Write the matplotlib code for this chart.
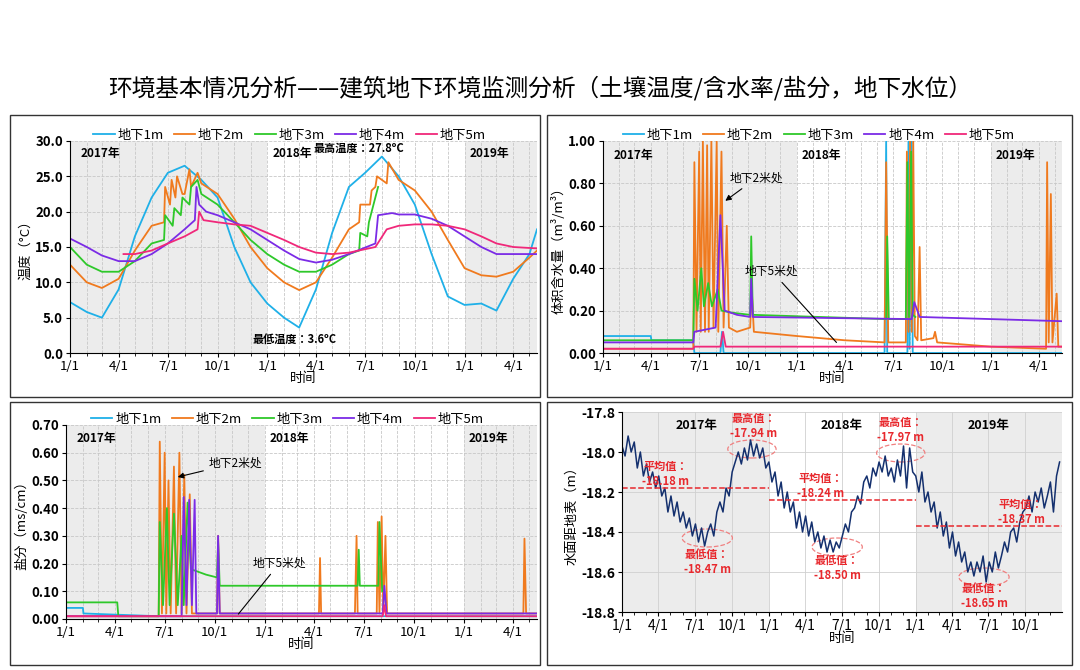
import matplotlib
matplotlib.use("Agg")
import matplotlib.pyplot as plt
import matplotlib.dates as mdates
from matplotlib.patches import Rectangle, Ellipse
import pandas as pd

plt.rcParams['font.family'] = ['Noto Sans CJK JP', 'Noto Sans CJK SC', 'DejaVu Sans']
plt.rcParams['axes.unicode_minus'] = False

C1, C2, C3, C4, C5 = '#1fb0e8', '#f07a1e', '#2ec82a', '#7b2be6', '#f0287a'
names = ['地下1m', '地下2m', '地下3m', '地下4m', '地下5m']

# ---------------- temperature ----------------
t_months = ['2017-01-01','2017-02-01','2017-03-01','2017-04-01','2017-05-01','2017-06-01','2017-07-01','2017-08-01',
            '2017-09-01','2017-10-01','2017-11-01','2017-12-01','2018-01-01','2018-02-01','2018-03-01','2018-04-01',
            '2018-05-01','2018-06-01','2018-07-01','2018-08-01','2018-09-01','2018-10-01','2018-11-01','2018-12-01',
            '2019-01-01','2019-02-01','2019-03-01','2019-04-01','2019-05-01','2019-05-15']
temp1 = [7.2,5.8,5.0,9.0,16.5,22.0,25.5,26.5,24.5,22.0,15.0,10.0,7.0,5.0,3.6,9.0,17.0,23.5,25.5,27.8,25.0,21.0,14.0,8.0,6.8,7.0,6.0,10.5,14.0,17.5]
temp2_d = ['2017-01-01','2017-02-01','2017-03-01','2017-04-01','2017-05-01','2017-06-01','2017-06-24','2017-06-26','2017-07-05','2017-07-08',
           '2017-07-15','2017-07-18','2017-07-28','2017-08-01','2017-08-10','2017-08-13','2017-08-25','2017-09-01','2017-10-01','2017-11-01',
           '2017-12-01','2018-01-01','2018-02-01','2018-03-01','2018-04-01','2018-05-01','2018-06-01','2018-06-20','2018-06-22','2018-07-10',
           '2018-07-13','2018-07-20','2018-07-23','2018-08-10','2018-08-13','2018-09-01','2018-10-01','2018-11-01','2018-12-01','2019-01-01',
           '2019-02-01','2019-03-01','2019-04-01','2019-05-01','2019-05-15']
temp2 = [12.5,10.0,9.2,10.5,14.5,18.0,18.5,23.5,21.0,24.5,22.0,25.0,22.5,22.5,26.0,23.5,25.5,24.0,22.5,19.0,
         15.0,12.0,10.0,8.9,10.0,13.5,17.5,18.5,21.0,21.0,23.0,23.5,25.0,24.0,27.0,24.5,23.0,20.0,16.0,12.0,
         11.0,10.8,11.5,13.5,14.5]
temp3_d = ['2017-01-01','2017-02-01','2017-03-01','2017-04-01','2017-05-01','2017-06-01','2017-06-24','2017-06-26','2017-07-10','2017-07-13',
           '2017-07-25','2017-07-28','2017-08-10','2017-08-13','2017-08-25','2017-09-01','2017-10-01','2017-11-01','2017-12-01','2018-01-01',
           '2018-02-01','2018-03-01','2018-04-01','2018-05-01','2018-06-01','2018-06-20','2018-06-22','2018-07-05','2018-07-08','2018-07-25']
temp3 = [15.0,12.5,11.5,11.5,13.0,15.5,16.0,19.5,18.0,20.5,19.5,22.0,21.0,23.5,24.5,22.5,21.0,18.5,16.0,14.0,
         12.5,11.5,11.5,12.5,14.0,14.5,17.0,16.5,18.5,23.5]
temp4_d = ['2017-01-01','2017-02-01','2017-03-01','2017-04-01','2017-05-01','2017-06-01','2017-07-01','2017-08-01','2017-08-20','2017-08-23',
           '2017-08-28','2017-09-10','2017-10-01','2017-11-01','2017-12-01','2018-01-01','2018-02-01','2018-03-01','2018-04-01','2018-05-01',
           '2018-06-01','2018-07-20','2018-07-25','2018-08-20','2018-09-01','2018-10-01','2018-11-01','2018-12-01','2019-01-01','2019-02-01',
           '2019-03-01','2019-04-01','2019-05-15']
temp4 = [16.2,15.0,13.8,13.0,13.0,14.0,15.5,17.5,18.8,23.5,21.0,20.0,19.5,18.5,17.5,16.0,14.5,13.3,12.8,13.2,
         14.0,15.5,19.5,19.8,19.6,19.6,19.0,18.0,16.5,15.0,14.0,14.0,14.0]
temp5_d = ['2017-04-10','2017-05-01','2017-06-01','2017-07-01','2017-08-01','2017-08-25','2017-08-28','2017-09-05','2017-10-01','2017-11-01',
           '2017-12-01','2018-01-01','2018-02-01','2018-03-01','2018-04-01','2018-05-01','2018-06-01','2018-07-20','2018-08-10','2018-09-01',
           '2018-10-01','2018-11-01','2018-12-01','2019-01-01','2019-02-01','2019-03-01','2019-04-01','2019-05-15']
temp5 = [14.0,14.0,14.5,15.5,16.5,17.5,20.0,18.8,18.5,18.2,18.0,17.0,16.0,15.0,14.2,14.0,14.2,15.0,17.5,18.0,
         18.2,18.2,18.0,17.5,16.5,15.5,15.0,14.8]

# ---------------- moisture ----------------
m1_d = ['2017-01-01','2017-04-01','2017-04-02','2017-06-20','2017-06-22','2017-08-10','2017-08-13','2017-08-16','2018-06-15','2018-06-18',
        '2018-06-20','2018-07-28','2018-07-30','2018-08-01','2018-08-05','2018-08-07','2019-05-15']
m1 = [0.08,0.08,0.06,0.06,0.0,0.0,0.1,0.0,0.0,1.0,0.0,0.0,1.0,0.02,1.0,0.0,0.0]
m2_d = ['2017-01-01','2017-06-20','2017-06-22','2017-06-26','2017-07-01','2017-07-04','2017-07-08','2017-07-12','2017-07-16','2017-07-19',
        '2017-07-24','2017-07-28','2017-08-03','2017-08-06','2017-08-12','2017-08-16','2017-08-22','2017-08-26','2017-09-10','2017-10-05',
        '2017-10-08','2017-10-12','2018-01-01','2018-04-01','2018-06-15','2018-06-18','2018-06-22','2018-07-25','2018-07-27','2018-07-30',
        '2018-08-02','2018-08-05','2018-08-08','2018-08-11','2018-08-16','2018-08-20','2018-08-23','2018-09-15','2018-09-18','2018-09-22',
        '2019-01-01','2019-04-15','2019-04-17','2019-04-20','2019-04-24','2019-04-27','2019-05-05','2019-05-08','2019-05-15']
m2 = [0.02,0.02,0.9,0.1,0.95,0.1,1.0,0.1,0.98,0.1,1.0,0.12,1.0,0.1,0.95,0.12,0.6,0.12,0.1,0.12,
      0.3,0.1,0.08,0.06,0.05,0.9,0.05,0.05,0.95,0.1,1.0,0.1,1.0,0.08,0.06,0.5,0.06,0.07,0.1,0.05,
      0.03,0.02,0.9,0.05,0.75,0.05,0.28,0.03,0.03]
m3_d = ['2017-01-01','2017-06-20','2017-06-22','2017-06-28','2017-07-05','2017-07-10','2017-07-18','2017-07-25','2017-08-05','2017-08-12',
        '2017-09-01','2017-10-05','2017-10-07','2017-10-10','2018-06-18','2018-06-20','2018-06-23','2018-07-25','2018-07-28','2018-07-31',
        '2018-08-04','2018-08-07','2018-08-12']
m3 = [0.06,0.06,0.35,0.2,0.4,0.22,0.33,0.22,0.3,0.2,0.19,0.18,0.55,0.18,0.16,0.55,0.16,0.16,0.9,0.17,0.95,0.18,0.17]
m4_d = ['2017-01-01','2017-06-20','2017-06-22','2017-08-01','2017-08-10','2017-08-18','2017-09-10','2017-10-05','2017-10-07','2017-10-10',
        '2018-08-05','2018-08-10','2018-08-20','2019-05-15']
m4 = [0.05,0.05,0.1,0.12,0.65,0.2,0.18,0.17,0.35,0.17,0.16,0.24,0.17,0.15]
m5_d = ['2017-01-01','2017-06-20','2017-06-22','2017-08-10','2017-08-15','2017-08-20','2019-05-15']
m5 = [0.02,0.02,0.03,0.03,0.1,0.03,0.03]

# ---------------- salt ----------------
s1_d = ['2017-01-01','2017-02-01','2017-02-02','2017-06-20','2019-05-15']
s1 = [0.04,0.04,0.02,0.01,0.01]
s2_d = ['2017-01-01','2017-06-20','2017-06-22','2017-06-26','2017-07-01','2017-07-04','2017-07-08','2017-07-12','2017-07-18','2017-07-22',
        '2017-07-28','2017-08-01','2017-08-06','2017-08-10','2017-08-16','2017-08-20','2017-10-05','2017-10-07','2017-10-10','2018-04-10',
        '2018-04-12','2018-04-14','2018-06-15','2018-06-18','2018-06-20','2018-07-25','2018-07-27','2018-07-30','2018-08-03','2018-08-06',
        '2018-08-10','2018-08-13','2019-04-20','2019-04-22','2019-04-25','2019-05-15']
s2 = [0.01,0.01,0.64,0.02,0.6,0.02,0.5,0.02,0.55,0.02,0.6,0.02,0.52,0.02,0.45,0.02,0.02,0.3,0.02,0.02,
      0.22,0.02,0.02,0.3,0.02,0.02,0.35,0.02,0.37,0.02,0.3,0.02,0.02,0.29,0.02,0.02]
s3_d = ['2017-01-01','2017-04-05','2017-04-07','2017-06-20','2017-06-22','2017-06-28','2017-07-05','2017-07-10','2017-07-18','2017-07-25',
        '2017-08-01','2017-08-05','2017-08-12','2017-08-18','2017-09-15','2017-10-05','2017-10-07','2017-10-10','2018-06-20','2018-06-22',
        '2018-06-24','2018-07-28','2018-07-30','2018-08-04']
s3 = [0.06,0.06,0.01,0.01,0.35,0.05,0.4,0.05,0.38,0.05,0.3,0.05,0.42,0.18,0.16,0.15,0.28,0.12,0.12,0.25,
      0.12,0.12,0.35,0.1]
s4_d = ['2017-01-01','2017-08-01','2017-08-05','2017-08-10','2017-08-15','2017-08-20','2017-08-25','2017-08-28','2017-10-05','2017-10-07',
        '2017-10-10','2018-08-05','2018-08-08','2018-08-12','2019-05-15']
s4 = [0.01,0.01,0.44,0.05,0.43,0.05,0.43,0.02,0.02,0.3,0.02,0.02,0.12,0.02,0.02]
s5_d = ['2017-01-01','2018-08-05','2018-08-08','2018-08-11','2019-05-15']
s5 = [0.01,0.01,0.05,0.01,0.01]

# ---------------- water level (about weekly readings) ----------------
wl = [-17.97,-18.02,-17.92,-18.00,-17.95,-18.08,-18.00,-18.12,-18.06,-18.15,-18.10,-18.18,
      -18.12,-18.22,-18.18,-18.30,-18.22,-18.32,-18.25,-18.35,-18.30,-18.38,-18.33,-18.42,
      -18.36,-18.45,-18.38,-18.47,-18.40,-18.36,-18.42,-18.30,-18.25,-18.30,-18.18,-18.22,
      -18.10,-18.05,-18.00,-18.06,-17.98,-18.04,-17.94,-18.02,-17.96,-18.03,-17.98,-18.08,
      -18.05,-18.15,-18.10,-18.22,-18.15,-18.28,-18.20,-18.30,-18.25,-18.38,-18.30,-18.40,
      -18.32,-18.42,-18.35,-18.45,-18.40,-18.48,-18.42,-18.50,-18.44,-18.50,-18.45,-18.48,
      -18.42,-18.36,-18.40,-18.30,-18.28,-18.22,-18.26,-18.15,-18.12,-18.18,-18.08,-18.12,
      -18.05,-18.10,-18.02,-18.12,-18.08,-18.15,-18.04,-18.12,-17.97,-18.18,-17.98,-18.10,
      -18.12,-18.20,-18.10,-18.25,-18.20,-18.30,-18.25,-18.38,-18.30,-18.42,-18.35,-18.48,
      -18.40,-18.52,-18.45,-18.55,-18.50,-18.60,-18.55,-18.62,-18.55,-18.60,-18.52,-18.65,
      -18.55,-18.60,-18.50,-18.58,-18.52,-18.45,-18.50,-18.40,-18.38,-18.45,-18.35,-18.30,
      -18.28,-18.22,-18.30,-18.20,-18.25,-18.18,-18.28,-18.22,-18.15,-18.30,-18.12,-18.05]
wl_avg = [-18.18, -18.24, -18.37]
wl_max = ['-17.94 m', '-17.97 m']
wl_min = ['-18.47 m', '-18.50 m', '-18.65 m']

D = pd.to_datetime
W, H = 1080, 670
fig = plt.figure(figsize=(W/100, H/100), dpi=100)

def rect(x0, y0, x1, y1):
    return [x0/W, 1-y1/H, (x1-x0)/W, (y1-y0)/H]

fig.text(0.5, 1-88/H, '环境基本情况分析——建筑地下环境监测分析（土壤温度/含水率/盐分，地下水位）',
         ha='center', va='center', fontsize=17)
for (x0, y0, x1, y1) in [(10,115,540,397),(547,115,1072,397),(10,402,540,665),(547,402,1072,665)]:
    fig.patches.append(Rectangle((x0/W, 1-y1/H), (x1-x0)/W, (y1-y0)/H, transform=fig.transFigure,
                                 fill=False, ec='#333333', lw=1.0))

start, end = D('2017-01-01'), D('2019-05-15')
qt = pd.date_range('2017-01-01', '2019-04-01', freq='QS')

def setup_time(ax):
    ax.set_xlim(start, end)
    ax.axvspan(start, D('2018-01-01'), color='#ececec', zorder=0, lw=0)
    ax.axvspan(D('2019-01-01'), end, color='#ececec', zorder=0, lw=0)
    ax.set_xticks(qt)
    ax.set_xticklabels([f'{d.month}/1' for d in qt], fontsize=9.5)
    ax.xaxis.set_minor_locator(mdates.MonthLocator())
    ax.grid(True, which='both', axis='x', ls='--', color='#c8c8c8', lw=0.6)
    ax.grid(True, which='major', axis='y', ls='--', color='#c8c8c8', lw=0.6)
    ax.set_xlabel('时间', fontsize=9.5, labelpad=-1)
    for s in ['top', 'right']:
        ax.spines[s].set_visible(False)
    ax.tick_params(labelsize=9.5, length=3, pad=2)
    ax.tick_params(which='minor', length=2)
    ax.set_axisbelow(True)

def legend(ax):
    ax.legend(names, loc='lower center', bbox_to_anchor=(0.47, 0.99), ncol=5, frameon=False,
              fontsize=9.5, handlelength=1.6, handletextpad=0.2, columnspacing=0.8, borderaxespad=0.0,
              borderpad=0.1)

def years(ax, y):
    ax.text(D('2017-01-20'), y, '2017年', fontsize=8.5, fontweight='bold', va='center')
    ax.text(D('2018-01-10'), y, '2018年', fontsize=8.5, fontweight='bold', va='center')
    ax.text(D('2019-01-10'), y, '2019年', fontsize=8.5, fontweight='bold', va='center')

# TL temperature
ax = fig.add_axes(rect(70, 141, 537, 353))
ax.plot(D(t_months), temp1, color=C1, lw=1.3)
ax.plot(D(temp2_d), temp2, color=C2, lw=1.3)
ax.plot(D(temp3_d), temp3, color=C3, lw=1.3)
ax.plot(D(temp4_d), temp4, color=C4, lw=1.3)
ax.plot(D(temp5_d), temp5, color=C5, lw=1.3)
legend(ax)
ax.set_ylim(0, 30); ax.set_yticks([0,5,10,15,20,25,30])
ax.set_yticklabels([f'{v:.1f}' for v in [0,5,10,15,20,25,30]], fontweight='bold')
ax.set_ylabel('温度（°C）', fontsize=9.5, labelpad=2)
setup_time(ax)
years(ax, 28.3)
ax.text(D('2018-06-20'), 29.0, '最高温度：27.8ºC', fontsize=8, fontweight='bold', ha='center', va='center')
ax.text(D('2018-02-20'), 1.9, '最低温度：3.6ºC', fontsize=8, fontweight='bold', ha='center', va='center')

# TR moisture
ax = fig.add_axes(rect(603, 141, 1062, 353))
for d, v, c in [(m1_d, m1, C1), (m2_d, m2, C2), (m3_d, m3, C3), (m4_d, m4, C4), (m5_d, m5, C5)]:
    ax.plot(D(d), v, color=c, lw=1.3)
legend(ax)
ax.set_ylim(0, 1.0); ax.set_yticks([0,0.2,0.4,0.6,0.8,1.0])
ax.set_yticklabels([f'{v:.2f}' for v in [0,0.2,0.4,0.6,0.8,1.0]], fontweight='bold')
ax.set_ylabel('体积含水量（m³/m³）', fontsize=9.5, labelpad=2)
setup_time(ax)
years(ax, 0.93)
ax.annotate('地下2米处', xy=(D('2017-08-15'), 0.71), xytext=(D('2017-08-28'), 0.81), fontsize=8.5,
            arrowprops=dict(arrowstyle='-|>', color='black', lw=0.8))
ax.annotate('地下5米处', xy=(D('2018-03-20'), 0.04), xytext=(D('2017-09-25'), 0.37), fontsize=8.5,
            arrowprops=dict(arrowstyle='-', color='black', lw=0.8))

# BL salt
ax = fig.add_axes(rect(66, 425, 537, 619))
for d, v, c in [(s1_d, s1, C1), (s2_d, s2, C2), (s3_d, s3, C3), (s4_d, s4, C4), (s5_d, s5, C5)]:
    ax.plot(D(d), v, color=c, lw=1.3)
legend(ax)
ax.set_ylim(0, 0.7); ax.set_yticks([0,0.1,0.2,0.3,0.4,0.5,0.6,0.7])
ax.set_yticklabels([f'{v:.2f}' for v in [0,0.1,0.2,0.3,0.4,0.5,0.6,0.7]], fontweight='bold')
ax.set_ylabel('盐分（ms/cm）', fontsize=9.5, labelpad=2)
setup_time(ax)
years(ax, 0.65)
ax.annotate('地下2米处', xy=(D('2017-07-20'), 0.51), xytext=(D('2017-09-20'), 0.55), fontsize=8.5,
            arrowprops=dict(arrowstyle='-|>', color='black', lw=0.8))
ax.annotate('地下5米处', xy=(D('2017-11-10'), 0.01), xytext=(D('2017-12-10'), 0.19), fontsize=8.5,
            arrowprops=dict(arrowstyle='-', color='black', lw=0.8))

# BR water level
ax = fig.add_axes(rect(622, 412, 1062, 612))
wd = pd.date_range('2017-01-01', '2019-12-25', periods=len(wl))
ax.plot(wd, wl, color='#14306e', lw=1.1)
ax.set_ylim(-18.8, -17.8)
yt = [-18.8, -18.6, -18.4, -18.2, -18.0, -17.8]
ax.set_yticks(yt)
ax.set_yticklabels([f'{v:.1f}' for v in yt], fontweight='bold', fontsize=10)
ax.set_ylabel('水面距地表（m）', fontsize=9.5, labelpad=2)
ax.set_xlim(start, D('2019-12-31'))
wt = pd.date_range('2017-01-01', '2019-10-01', freq='QS')
ax.axvspan(start, D('2018-01-01'), color='#ececec', zorder=0, lw=0)
ax.axvspan(D('2019-01-01'), D('2019-12-31'), color='#ececec', zorder=0, lw=0)
ax.set_xticks(wt); ax.set_xticklabels([f'{d.month}/1' for d in wt], fontsize=10)
ax.xaxis.set_minor_locator(mdates.MonthLocator())
ax.grid(True, which='major', ls='-', color='#d0d0d0', lw=0.6)
ax.set_axisbelow(True)
ax.set_xlabel('时间', fontsize=9.5, labelpad=-1)
for s in ['top', 'right']:
    ax.spines[s].set_visible(False)
ax.tick_params(length=3, pad=2)
red = '#e8282d'
yrs = [('2017-01-01','2018-01-01'), ('2018-01-01','2019-01-01'), ('2019-01-01','2019-12-31')]
for (a, b), m in zip(yrs, wl_avg):
    ax.hlines(m, D(a), D(b), colors=red, linestyles='--', lw=1.1)
for x, lab in zip(['2017-07-05','2018-07-01','2019-07-01'], ['2017年','2018年','2019年']):
    ax.text(D(x), -17.87, lab, fontsize=9, fontweight='bold', ha='center', va='center')
for x, y, m in [('2017-04-20', -18.11, wl_avg[0]), ('2018-05-10', -18.17, wl_avg[1]), ('2019-09-20', -18.30, wl_avg[2])]:
    ax.text(D(x), y, f'平均值：\n{m:.2f} m', color=red, fontsize=8, fontweight='bold', ha='center', va='center', linespacing=1.2)
for x, y, ex, ey, lab in [('2017-11-25', -17.87, '2017-11-20', -17.985, wl_max[0]), ('2018-11-25', -17.89, '2018-11-25', -18.005, wl_max[1])]:
    ax.text(D(x), y, '最高值：\n' + lab, color=red, fontsize=8, fontweight='bold', ha='center', va='center', linespacing=1.2)
    ax.add_patch(Ellipse((mdates.date2num(D(ex)), ey), 120, 0.09, fill=False, ec='#f08080', ls='--', lw=0.9))
for x, y, ex, ey, lab in [('2017-08-01', -18.55, '2017-08-01', -18.43, wl_min[0]),
                          ('2018-06-20', -18.58, '2018-06-20', -18.475, wl_min[1]),
                          ('2019-06-20', -18.72, '2019-06-20', -18.625, wl_min[2])]:
    ax.text(D(x), y, '最低值：\n' + lab, color=red, fontsize=8, fontweight='bold', ha='center', va='center', linespacing=1.2)
    ax.add_patch(Ellipse((mdates.date2num(D(ex)), ey), 125, 0.09, fill=False, ec='#f08080', ls='--', lw=0.9))

fig.savefig('out.png', dpi=100)
